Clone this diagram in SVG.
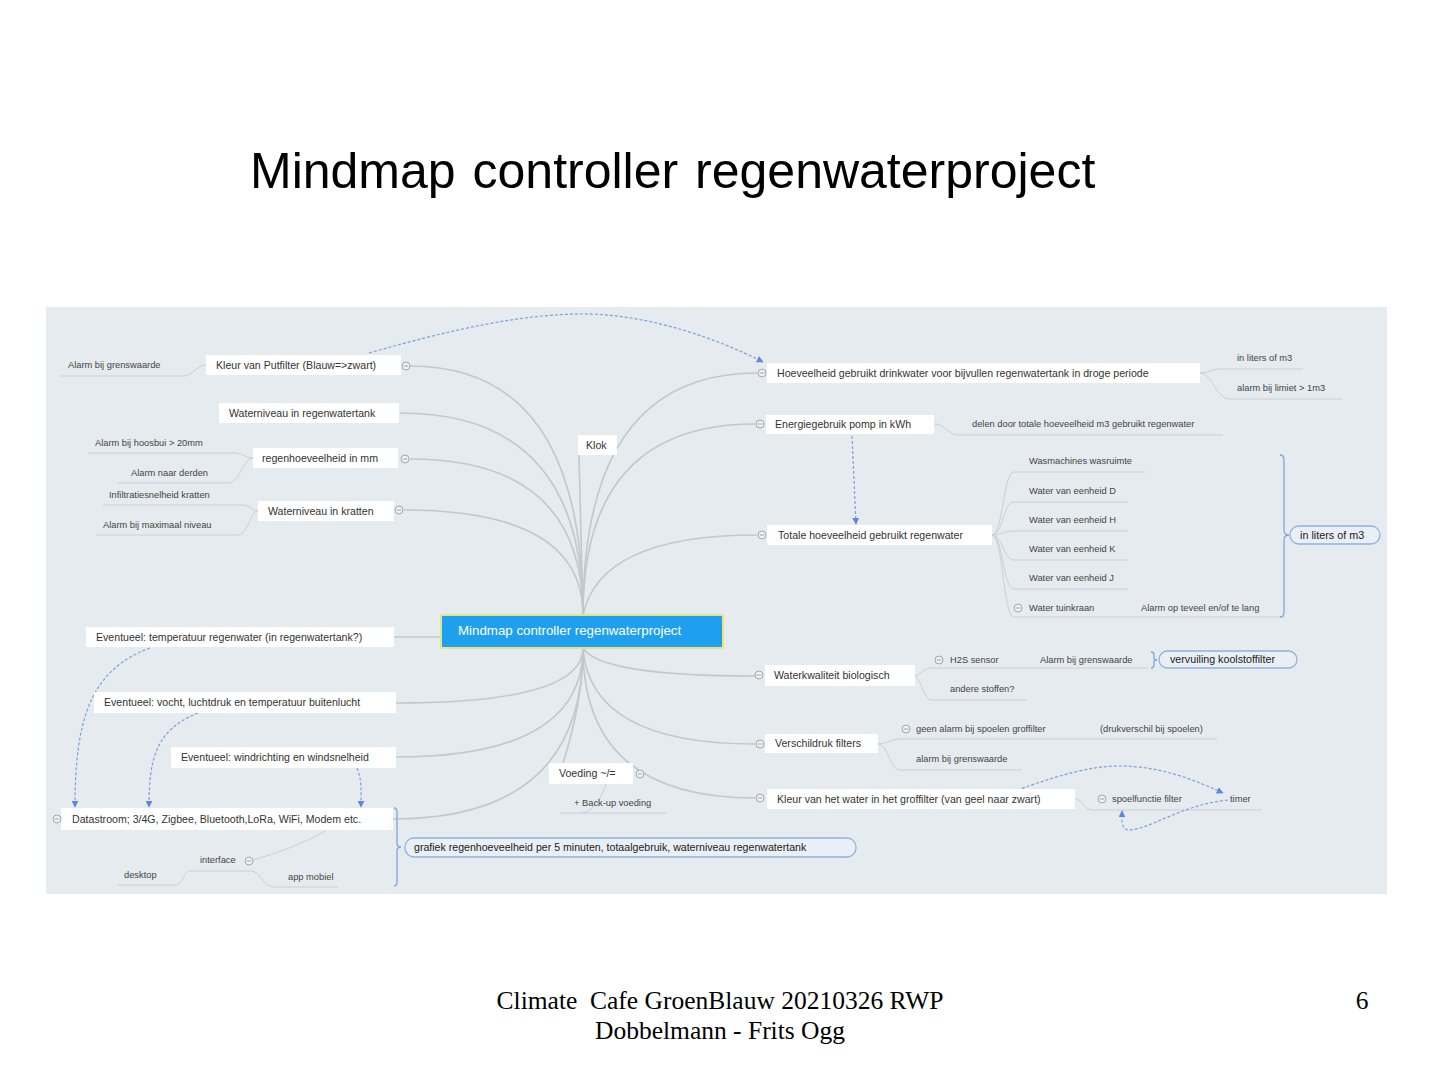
<svg xmlns="http://www.w3.org/2000/svg" width="1439" height="1080" viewBox="0 0 1439 1080">
<style>
text{font-family:"Liberation Sans",Arial,sans-serif;fill:#333}
.t{font-size:10.6px}
.s{font-size:9.3px;fill:#444}
.nb{fill:#fff}
.conn{fill:none;stroke:#c2c8cd;stroke-width:1.6}
.sub{fill:none;stroke:#c9cfd4;stroke-width:1}
.dash{fill:none;stroke:#7aa1d8;stroke-width:1.2;stroke-dasharray:3 2;marker-end:url(#arr)}
.br{fill:none;stroke:#7fa6da;stroke-width:1.3}
.sum{fill:#e9eff4;stroke:#8fb2dc;stroke-width:1.3}
.serif{font-family:"Liberation Serif","Times New Roman",serif;fill:#000;font-size:25.5px}
</style>
<defs>
<marker id="arr" viewBox="0 0 10 10" refX="9" refY="5" markerWidth="7" markerHeight="7" markerUnits="userSpaceOnUse" orient="auto">
<path d="M0 0 L10 5 L0 10 z" fill="#5a8ad8"/>
</marker>
<g id="mn"><circle r="4" fill="#eef1f3" stroke="#9aa0a5" stroke-width="0.9"/><line x1="-2.2" x2="2.2" y1="0" y2="0" stroke="#9aa0a5" stroke-width="0.9"/></g>
</defs>
<rect x="0" y="0" width="1439" height="1080" fill="#fff"/>
<text x="250" y="188" style="font-size:50px;fill:#000;word-spacing:3px">Mindmap controller regenwaterproject</text>
<rect x="46" y="307" width="1341" height="587" fill="#e5ebef"/>

<g id="connectors">
<path class="conn" d="M410 366 Q583 366 583 615"/>
<path class="conn" d="M400 413 Q583 413 583 615"/>
<path class="conn" d="M410 459 Q583 459 583 615"/>
<path class="conn" d="M404 510 Q583 510 583 615"/>
<path class="conn" d="M579 455 L583 615"/>
<path class="conn" d="M757 373 Q583 373 583 615"/>
<path class="conn" d="M755 424 Q583 424 583 615"/>
<path class="conn" d="M757 535 Q600 535 583 615"/>
<path class="conn" d="M394 637 L441 637"/>
<path class="conn" d="M396 703 Q583 703 583 648"/>
<path class="conn" d="M396 757 Q583 757 583 648"/>
<path class="conn" d="M393 819 Q583 819 583 648"/>
<path class="conn" d="M563 763 Q583 700 583 648"/>
<path class="conn" d="M755 676 Q600 676 583 648"/>
<path class="conn" d="M755 744 Q590 744 583 648"/>
<path class="conn" d="M755 798 Q583 798 583 648"/>
<path class="sub" d="M61 376 L183 376 C193 376 196 365 206 365"/>
<path class="sub" d="M88 453 L233 453 C243 453 245 458 253 458"/>
<path class="sub" d="M118 483 L228 483 C240 483 243 458 253 458"/>
<path class="sub" d="M103 505 L243 505 C250 505 252 511 258 511"/>
<path class="sub" d="M96 535 L238 535 C248 535 250 511 258 511"/>
<path class="sub" d="M326 831 Q290 850 253 860"/>
<path class="sub" d="M118 885 L176 885 C182 885 184 871 190 871 L251 871 C260 871 264 887 273 887 L338 887"/>
<path class="sub" d="M606 784 Q596 813 580 813"/>
<path class="sub" d="M560 813 L667 813"/>
<path class="sub" d="M1200 373 C1210 373 1210 369 1220 369 L1303 369"/>
<path class="sub" d="M1200 373 C1212 373 1216 399 1230 399 L1342 399"/>
<path class="sub" d="M934 424 C945 424 948 435 958 435 L1223 435"/>
<path class="sub" d="M992 535 C1003 535 1003 472 1014 472 L1145 472"/>
<path class="sub" d="M992 535 C1003 535 1003 502 1014 502 L1128 502"/>
<path class="sub" d="M992 535 C1003 535 1003 531 1014 531 L1128 531"/>
<path class="sub" d="M992 535 C1003 535 1003 560 1014 560 L1128 560"/>
<path class="sub" d="M992 535 C1003 535 1003 589 1014 589 L1128 589"/>
<path class="sub" d="M992 535 C1003 535 1003 617 1014 617 L1285 617"/>
<path class="sub" d="M913 676 C922 676 922 668 932 668 L1148 668"/>
<path class="sub" d="M913 676 C922 676 922 700 932 700 L1027 700"/>
<path class="sub" d="M878 744 C888 744 890 739 900 739 L1217 739"/>
<path class="sub" d="M878 744 C888 744 890 770 900 770 L1022 770"/>
<path class="sub" d="M1075 799 C1083 799 1084 810 1092 810 L1262 810"/>
<path class="br" d="M1280 455 Q1284 455 1284 460 L1284 530 Q1284 535 1289 535 Q1284 535 1284 540 L1284 612 Q1284 617 1280 617"/>
<path class="br" d="M394 808 Q397 808 397 812 L397 843 Q397 847 401 847 Q397 847 397 851 L397 882 Q397 886 394 886"/>
<path class="br" d="M1151 652 Q1154 652 1154 655 L1154 658 Q1154 660 1157 660 Q1154 660 1154 662 L1154 665 Q1154 668 1151 668"/>
<path class="dash" d="M369 353 C450 330 520 314 583 314 C650 314 720 340 763 362"/>
<path class="dash" d="M150 648 C90 670 75 720 75 807"/>
<path class="dash" d="M198 713 C155 730 149 760 149 807"/>
<path class="dash" d="M357 768 C362 780 361 790 361 807"/>
<path class="dash" d="M852 436 L856 524"/>
<path class="dash" d="M1017 790 C1060 775 1090 766 1120 766 C1160 766 1195 780 1223 793"/>
<path class="dash" d="M1228 800 C1180 805 1150 830 1128 830 C1121 829 1122 820 1122 811"/>
</g>

<g id="center">
<rect x="441" y="615" width="282" height="33" rx="2" fill="#1fa0ee" stroke="#e9e27f" stroke-width="2"/>
<text x="458" y="635" style="font-size:13.3px;fill:#fff">Mindmap controller regenwaterproject</text>
</g>

<g id="n-kleur-putfilter">
<rect class="nb" x="206" y="355" width="195" height="20"/>
<text class="t" x="216" y="369">Kleur van Putfilter (Blauw=&gt;zwart)</text>
<use href="#mn" x="406" y="366"/>
<text class="s" x="68" y="368">Alarm bij grenswaarde</text>
</g>
<g id="n-waterniveau-tank">
<rect class="nb" x="219" y="403" width="180" height="20"/>
<text class="t" x="229" y="417">Waterniveau in regenwatertank</text>
</g>
<g id="n-regen">
<rect class="nb" x="253" y="448" width="145" height="20"/>
<text class="t" x="262" y="462">regenhoeveelheid in mm</text>
<use href="#mn" x="405" y="459"/>
<text class="s" x="95" y="446">Alarm bij hoosbui &gt; 20mm</text>
<text class="s" x="131" y="476">Alarm naar derden</text>
</g>
<g id="n-kratten">
<rect class="nb" x="258" y="501" width="136" height="20"/>
<text class="t" x="268" y="515">Waterniveau in kratten</text>
<use href="#mn" x="399" y="510"/>
<text class="s" x="109" y="498">Infiltratiesnelheid kratten</text>
<text class="s" x="103" y="528">Alarm bij maximaal niveau</text>
</g>
<g id="n-klok">
<rect class="nb" x="578" y="435" width="39" height="20"/>
<text class="t" x="586" y="449">Klok</text>
</g>
<g id="n-temp">
<rect class="nb" x="86" y="627" width="308" height="20"/>
<text class="t" x="96" y="641">Eventueel: temperatuur regenwater (in regenwatertank?)</text>
</g>
<g id="n-vocht">
<rect class="nb" x="94" y="692" width="302" height="21"/>
<text class="t" x="104" y="706">Eventueel: vocht, luchtdruk en temperatuur buitenlucht</text>
</g>
<g id="n-wind">
<rect class="nb" x="171" y="747" width="225" height="21"/>
<text class="t" x="181" y="761">Eventueel: windrichting en windsnelheid</text>
</g>
<g id="n-data">
<rect class="nb" x="61" y="808" width="332" height="22"/>
<text class="t" x="72" y="823">Datastroom; 3/4G, Zigbee, Bluetooth,LoRa, WiFi, Modem etc.</text>
<use href="#mn" x="57" y="819"/>
<use href="#mn" x="249" y="861"/>
<text class="s" x="200" y="863">interface</text>
<text class="s" x="124" y="878">desktop</text>
<text class="s" x="288" y="880">app mobiel</text>
</g>
<g id="s-grafiek">
<rect class="sum" x="405" y="838" width="451" height="19" rx="9"/>
<text x="414" y="851" style="font-size:10.6px;fill:#222">grafiek regenhoeveelheid per 5 minuten, totaalgebruik, waterniveau regenwatertank</text>
</g>
<g id="n-voeding">
<rect class="nb" x="549" y="763" width="84" height="21"/>
<text class="t" x="559" y="777">Voeding ~/=</text>
<use href="#mn" x="640" y="774"/>
<text class="s" x="574" y="806">+ Back-up voeding</text>
</g>

<g id="n-hoeveelheid">
<rect class="nb" x="767" y="363" width="433" height="20"/>
<text class="t" x="777" y="377">Hoeveelheid gebruikt drinkwater voor bijvullen regenwatertank in droge periode</text>
<use href="#mn" x="762" y="373"/>
<text class="s" x="1237" y="361">in liters of m3</text>
<text class="s" x="1237" y="391">alarm bij limiet &gt; 1m3</text>
</g>
<g id="n-energie">
<rect class="nb" x="766" y="415" width="168" height="19"/>
<text class="t" x="775" y="428">Energiegebruik pomp in kWh</text>
<use href="#mn" x="760" y="424"/>
<text class="s" x="972" y="427">delen door totale hoeveelheid m3 gebruikt regenwater</text>
</g>
<g id="n-totale">
<rect class="nb" x="767" y="525" width="225" height="20"/>
<text class="t" x="778" y="539">Totale hoeveelheid gebruikt regenwater</text>
<use href="#mn" x="762" y="535"/>
<text class="s" x="1029" y="464">Wasmachines wasruimte</text>
<text class="s" x="1029" y="494">Water van eenheid D</text>
<text class="s" x="1029" y="523">Water van eenheid H</text>
<text class="s" x="1029" y="552">Water van eenheid K</text>
<text class="s" x="1029" y="581">Water van eenheid J</text>
<use href="#mn" x="1018" y="608"/>
<text class="s" x="1029" y="611">Water tuinkraan</text>
<text class="s" x="1141" y="611">Alarm op teveel en/of te lang</text>
</g>
<g id="s-liters">
<rect class="sum" x="1290" y="526" width="90" height="18" rx="9"/>
<text x="1300" y="539" style="font-size:10.8px;fill:#222">in liters of m3</text>
</g>
<g id="n-waterkwaliteit">
<rect class="nb" x="765" y="665" width="150" height="21"/>
<text class="t" x="774" y="679">Waterkwaliteit biologisch</text>
<use href="#mn" x="759" y="675"/>
<use href="#mn" x="939" y="660"/>
<text class="s" x="950" y="663">H2S sensor</text>
<text class="s" x="1040" y="663">Alarm bij grenswaarde</text>
<text class="s" x="950" y="692">andere stoffen?</text>
</g>
<g id="s-koolstof">
<rect class="sum" x="1159" y="651" width="138" height="17" rx="8.5"/>
<text x="1170" y="663" style="font-size:10.7px;fill:#222">vervuiling koolstoffilter</text>
</g>
<g id="n-verschildruk">
<rect class="nb" x="765" y="734" width="113" height="19"/>
<text class="t" x="775" y="747">Verschildruk filters</text>
<use href="#mn" x="760" y="744"/>
<use href="#mn" x="906" y="729"/>
<text class="s" x="916" y="732">geen alarm bij spoelen groffilter</text>
<text class="s" x="1100" y="732">(drukverschil bij spoelen)</text>
<text class="s" x="916" y="762">alarm bij grenswaarde</text>
</g>
<g id="n-kleur-water">
<rect class="nb" x="767" y="789" width="308" height="20"/>
<text class="t" x="777" y="803">Kleur van het water in het groffilter (van geel naar zwart)</text>
<use href="#mn" x="760" y="798"/>
<use href="#mn" x="1102" y="799"/>
<text class="s" x="1112" y="802">spoelfunctie filter</text>
<text class="s" x="1230" y="802">timer</text>
</g>

<text class="serif" x="720" y="1009" text-anchor="middle" xml:space="preserve">Climate  Cafe GroenBlauw 20210326 RWP</text>
<text class="serif" x="720" y="1039" text-anchor="middle">Dobbelmann - Frits Ogg</text>
<text class="serif" x="1362" y="1009" text-anchor="middle">6</text>
</svg>
